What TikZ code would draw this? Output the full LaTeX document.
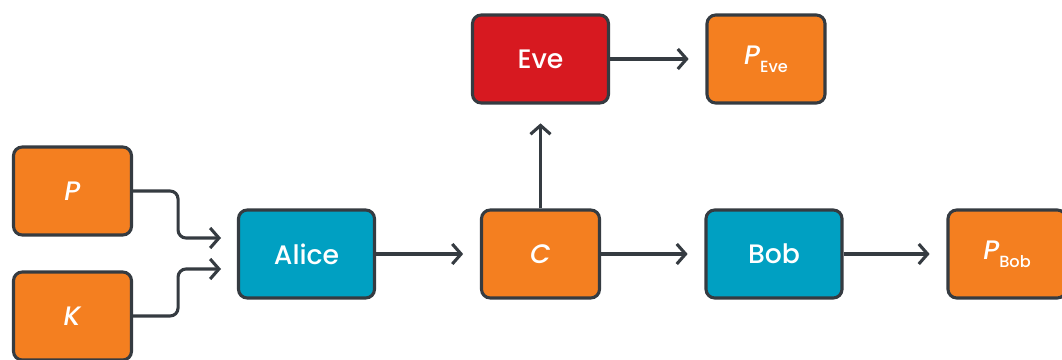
\documentclass[tikz,border=0pt]{standalone}
\usepackage{fontspec}
\setmainfont{Poppins}[UprightFont=* Medium, ItalicFont=* Medium Italic,
  BoldFont=* SemiBold, BoldItalicFont=* SemiBold Italic]
\usetikzlibrary{arrows.meta}
\definecolor{boxorange}{HTML}{F47F20}
\definecolor{boxblue}{HTML}{00A0C2}
\definecolor{boxred}{HTML}{D71920}
\definecolor{edgegray}{HTML}{353B41}
\tikzset{
  box/.style={draw=edgegray, line width=2.2pt, rounded corners=0.22cm,
    text=white, font=\fontsize{19}{22}\selectfont,
    minimum width=2.95cm, minimum height=2.2cm, inner sep=0pt},
  widebox/.style={box, minimum width=3.4cm},
  arr/.style={draw=edgegray, line width=2.2pt,
    -{Straight Barb[length=0.22cm, width=0.5cm, line width=2.2pt]},
    shorten >=0.42cm},
}
\newcommand{\sub}[2]{\textit{#1}\raisebox{-0.55ex}{\fontsize{11.5}{12}\selectfont #2}}
\begin{document}
\begin{tikzpicture}[x=0.025cm, y=-0.025cm]
    \useasboundingbox (0,0) rectangle (1062,360);
    \clip (0,0) rectangle (1062,360);

    % Inputs
    \node[box, fill=boxorange] (p) at (72.5,191) {\textit{P}};
    \node[box, fill=boxorange] (k) at (72.5,316) {\textit{K}};

    % Main chain
    \node[widebox, fill=boxblue] (alice) at (306.5,254) {Alice};
    \node[box, fill=boxorange] (c) at (540.5,254) {\textit{C}};
    \node[widebox, fill=boxblue] (bob) at (774,254) {Bob};
    \node[box, fill=boxorange] (pbob) at (1007,254) {\sub{P}{Bob}};

    % Eavesdropper
    \node[widebox, fill=boxred] (eve) at (540.5,59) {Eve};
    \node[box, fill=boxorange] (peve) at (766,59) {\sub{P}{Eve}};

    % Arrow ends
    \coordinate (pin) at (221,238);
    \coordinate (kin) at (221,269);

    % Connectors
    \draw[arr, shorten >=0pt, rounded corners=0.2cm] (p.east) -- ++(45,0) |- (pin);
    \draw[arr, shorten >=0pt, rounded corners=0.2cm] (k.east) -- ++(45,0) |- (kin);
    \draw[arr] (alice) -- (c);
    \draw[arr] (c) -- (bob);
    \draw[arr] (bob) -- (pbob);
    \draw[arr, shorten >=0.47cm] (c) -- (eve);
    \draw[arr] (eve) -- (peve);
\end{tikzpicture}
\end{document}
